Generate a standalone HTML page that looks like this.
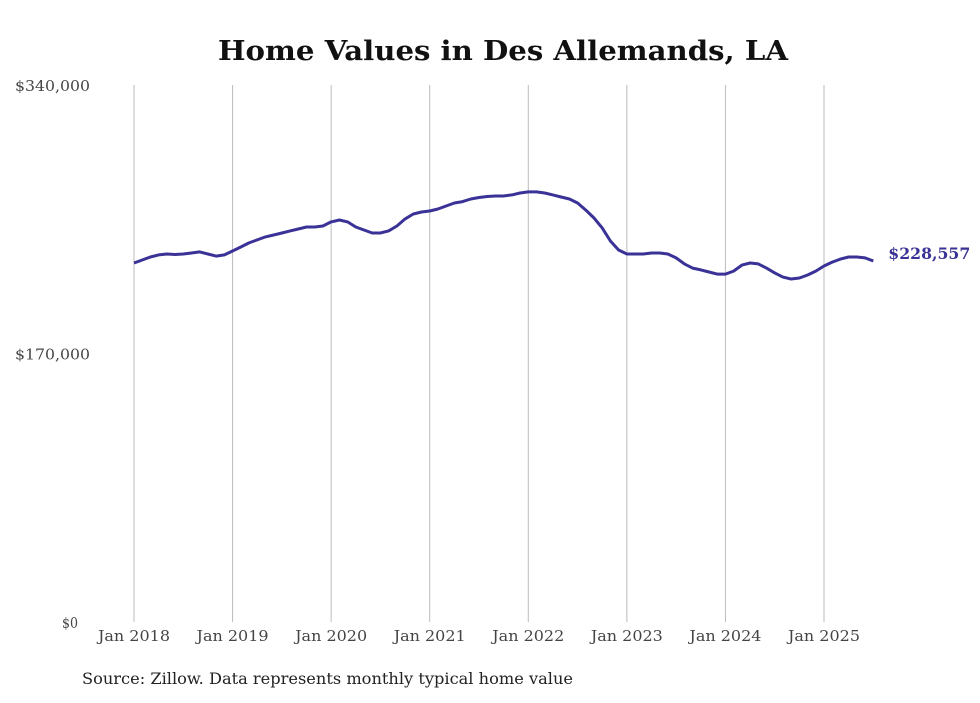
<!DOCTYPE html>
<html><head><meta charset="utf-8"><style>
body{margin:0;background:#fff;width:980px;height:699px;overflow:hidden;font-family:"DejaVu Serif Condensed","DejaVu Serif",serif;}
</style></head><body>
<svg width="980" height="699" font-family="DejaVu Serif Condensed, DejaVu Serif, serif">
<text x="218" y="60" font-size="27" font-weight="bold" fill="#111" textLength="570" lengthAdjust="spacingAndGlyphs">Home Values in Des Allemands, LA</text>
<g id="grid"></g><g id="yt"></g><g id="xt"></g>
<path id="line" fill="none" stroke="#3a3296" stroke-width="3" stroke-linejoin="round"/>
<text id="lastlabel" font-size="16" font-weight="bold" fill="#3a3296" textLength="82" lengthAdjust="spacingAndGlyphs"></text>
<text x="82" y="684" font-size="16" fill="#222" textLength="491" lengthAdjust="spacingAndGlyphs">Source: Zillow. Data represents monthly typical home value</text>
</svg>
<script>
const yTicks=[0,170000,340000];
const yTickLabels=["$0","$170,000","$340,000"];
const xYears=[2018,2019,2020,2021,2022,2023,2024,2025];
const xLabels=["Jan 2018","Jan 2019","Jan 2020","Jan 2021","Jan 2022","Jan 2023","Jan 2024","Jan 2025"];
const valuesK=[227.3,229.2,231.1,232.4,233.0,232.7,233.0,233.6,234.3,233.0,231.7,232.4,
234.9,237.4,240.0,241.9,243.8,245.0,246.3,247.6,248.8,250.1,250.1,250.7,
253.3,254.5,253.3,250.1,248.2,246.3,246.3,247.6,250.7,255.2,258.3,259.6,
260.2,261.5,263.4,265.3,266.2,267.8,268.8,269.4,269.7,269.7,270.4,271.6,
272.3,272.3,271.6,270.4,269.1,267.8,265.3,260.8,255.8,249.5,241.2,235.5,
233.0,233.0,233.0,233.6,233.6,233.0,230.5,226.7,224.1,222.9,221.6,220.3,
220.3,222.2,226.0,227.3,226.7,224.1,221.0,218.4,217.2,217.8,219.7,222.2,
225.4,227.9,229.8,231.1,231.1,230.5,228.557];
const NS="http://www.w3.org/2000/svg";
const y=v=>622-v/340000*537;
const x=m=>134+m*(824-134)/84;
const mk=(t,a,p)=>{const e=document.createElementNS(NS,t);for(const k in a)e.setAttribute(k,a[k]);p.appendChild(e);return e;};
const grid=document.getElementById('grid'),xt=document.getElementById('xt'),yt=document.getElementById('yt');
xYears.forEach((yr,i)=>{const m=(yr-2018)*12;
const l=mk('line',{x1:x(m),x2:x(m),y1:85,y2:622,stroke:'#bbb','stroke-width':1},grid);


const t=mk('text',{x:x(m)-36,y:641,'font-size':15,fill:'#444',textLength:72,lengthAdjust:'spacingAndGlyphs'},xt);t.textContent=xLabels[i];

});
yTicks.forEach((v,i)=>{const w=v===0?16:75;const ex=v===0?78:90;
const t=mk('text',{x:ex-w,y:y(v)+6,'font-size':15,fill:'#444',textLength:w,lengthAdjust:'spacingAndGlyphs'},yt);t.textContent=yTickLabels[i];

});
document.getElementById('line').setAttribute('d',valuesK.map((v,i)=>(i?'L':'M')+x(i).toFixed(1)+','+y(v*1000).toFixed(1)).join(''));
const n=valuesK.length-1,lb=document.getElementById('lastlabel');
lb.setAttribute('x',x(n)+15);lb.setAttribute('y',y(valuesK[n]*1000)-2);
lb.textContent='$'+Math.round(valuesK[n]*1000).toLocaleString('en-US');
</script>
</body></html>
